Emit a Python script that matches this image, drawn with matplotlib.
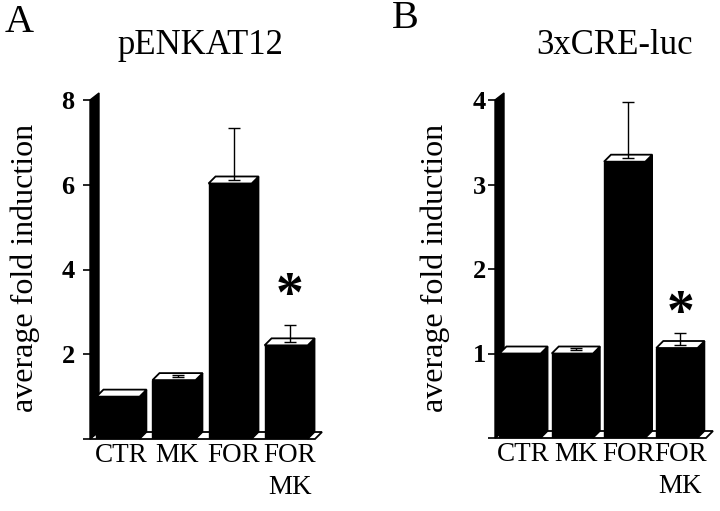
import numpy as np
import matplotlib
matplotlib.use("Agg")
import matplotlib.pyplot as plt
from matplotlib.patches import Polygon

# values (front edge of each bar top, top of error whisker)
categories = ["CTR", "MK", "FOR", "FOR\nMK"]
enk_values = [1.0, 1.39, 6.03, 2.21]
enk_err_top = [1.0, 1.50, 7.33, 2.68]
cre_values = [1.0, 1.0, 3.27, 1.065]
cre_err_top = [1.0, 1.06, 3.98, 1.24]
enk_yticks = [0, 2, 4, 6, 8]
cre_yticks = [0, 1, 2, 3, 4]

W, H = 720, 511
plt.rcParams["font.family"] = ["Liberation Serif", "DejaVu Serif"]
fig = plt.figure(figsize=(W / 100, H / 100), dpi=100)


def px_box(left, right, top, bottom):
    return [left / W, 1 - bottom / H, (right - left) / W, (bottom - top) / H]


def panel(box, values, err_top, yticks, xlim, bar_w, tick_pad, star_y):
    ax = fig.add_axes(box)
    ymax = yticks[-1]
    ax.set_xlim(*xlim)
    ax.set_ylim(0, ymax)
    # 3D depth offset, given in pixels, turned into data units
    ax_w = box[2] * W
    ax_h = box[3] * H
    dx = 7 * (xlim[1] - xlim[0]) / ax_w
    dy = 7 * ymax / ax_h
    wdx = 9 * (xlim[1] - xlim[0]) / ax_w
    x = np.arange(len(values))
    x0 = xlim[0]
    floor_end = xlim[1] - dx

    # floor
    ax.add_patch(Polygon([(x0, 0), (floor_end, 0), (floor_end + dx, dy), (x0 + dx, dy)],
                         closed=True, facecolor="white", edgecolor="black", lw=1.3,
                         clip_on=False, zorder=1))
    # left wall
    ax.add_patch(Polygon([(x0, 0), (x0, ymax), (x0 + wdx, ymax + dy), (x0 + wdx, dy)],
                         closed=True, facecolor="black", edgecolor="black", lw=1,
                         clip_on=False, zorder=2))

    ax.bar(x, values, width=bar_w, color="black", edgecolor="black", lw=1, zorder=3)
    for xi, v in zip(x, values):
        xl, xr = xi - bar_w / 2, xi + bar_w / 2
        ax.add_patch(Polygon([(xr, 0), (xr, v), (xr + dx, v + dy), (xr + dx, dy)],
                             closed=True, facecolor="black", edgecolor="black", lw=1,
                             zorder=3, clip_on=False))
        ax.add_patch(Polygon([(xl, v), (xr, v), (xr + dx, v + dy), (xl + dx, v + dy)],
                             closed=True, facecolor="white", edgecolor="black", lw=1.3,
                             zorder=4, clip_on=False))

    # error whiskers start from the middle of the top face
    base = np.array(values) + dy / 2
    up = np.clip(np.array(err_top) - base, 0, None)
    show = up > 0
    ax.errorbar(x[show] + dx / 2, base[show], yerr=[np.zeros(show.sum()), up[show]],
                fmt="none", ecolor="black", elinewidth=1, capsize=4, capthick=1,
                zorder=5, clip_on=False)

    ax.text(x[-1] + dx / 2, star_y, "*", fontsize=40, fontweight="bold",
            ha="center", va="center", zorder=6)

    for s in ax.spines.values():
        s.set_visible(False)
    ax.set_yticks(yticks)
    ax.set_yticklabels([""] + [str(t) for t in yticks[1:]], fontsize=19, fontweight="bold")
    ax.tick_params(axis="y", length=5, width=1.2, direction="out", pad=tick_pad)
    ax.set_xticks(x + dx / 2)
    ax.set_xticklabels(categories, fontsize=19.5, linespacing=1.35)
    ax.tick_params(axis="x", length=0, pad=3)
    ax.set_ylabel("average fold induction", fontsize=23)
    ax.yaxis.label.set_va("center")
    return ax


axA = panel(px_box(90, 322, 100, 439), enk_values, enk_err_top, enk_yticks,
            (-0.5, 3.64), 0.77, 6, 3.35)
axA.yaxis.set_label_coords((25 - 90) / 232, (439 - 268) / 339)

axB = panel(px_box(495, 713, 100, 438), cre_values, cre_err_top, cre_yticks,
            (-0.48, 3.69), 0.79, 1.5, 1.46)
axB.yaxis.set_label_coords((435 - 495) / 218, (438 - 268) / 338)

fig.text(19 / W, 1 - 22 / H, "A", fontsize=29, ha="center", va="center")
fig.text(405 / W, 1 - 18 / H, "B", fontsize=29, ha="center", va="center")
fig.text(200 / W, 1 - 45 / H, "pENKAT12", fontsize=25, ha="center", va="center")
fig.text(615 / W, 1 - 45 / H, "3xCRE-luc", fontsize=25, ha="center", va="center")

fig.savefig("out.png", dpi=100)
